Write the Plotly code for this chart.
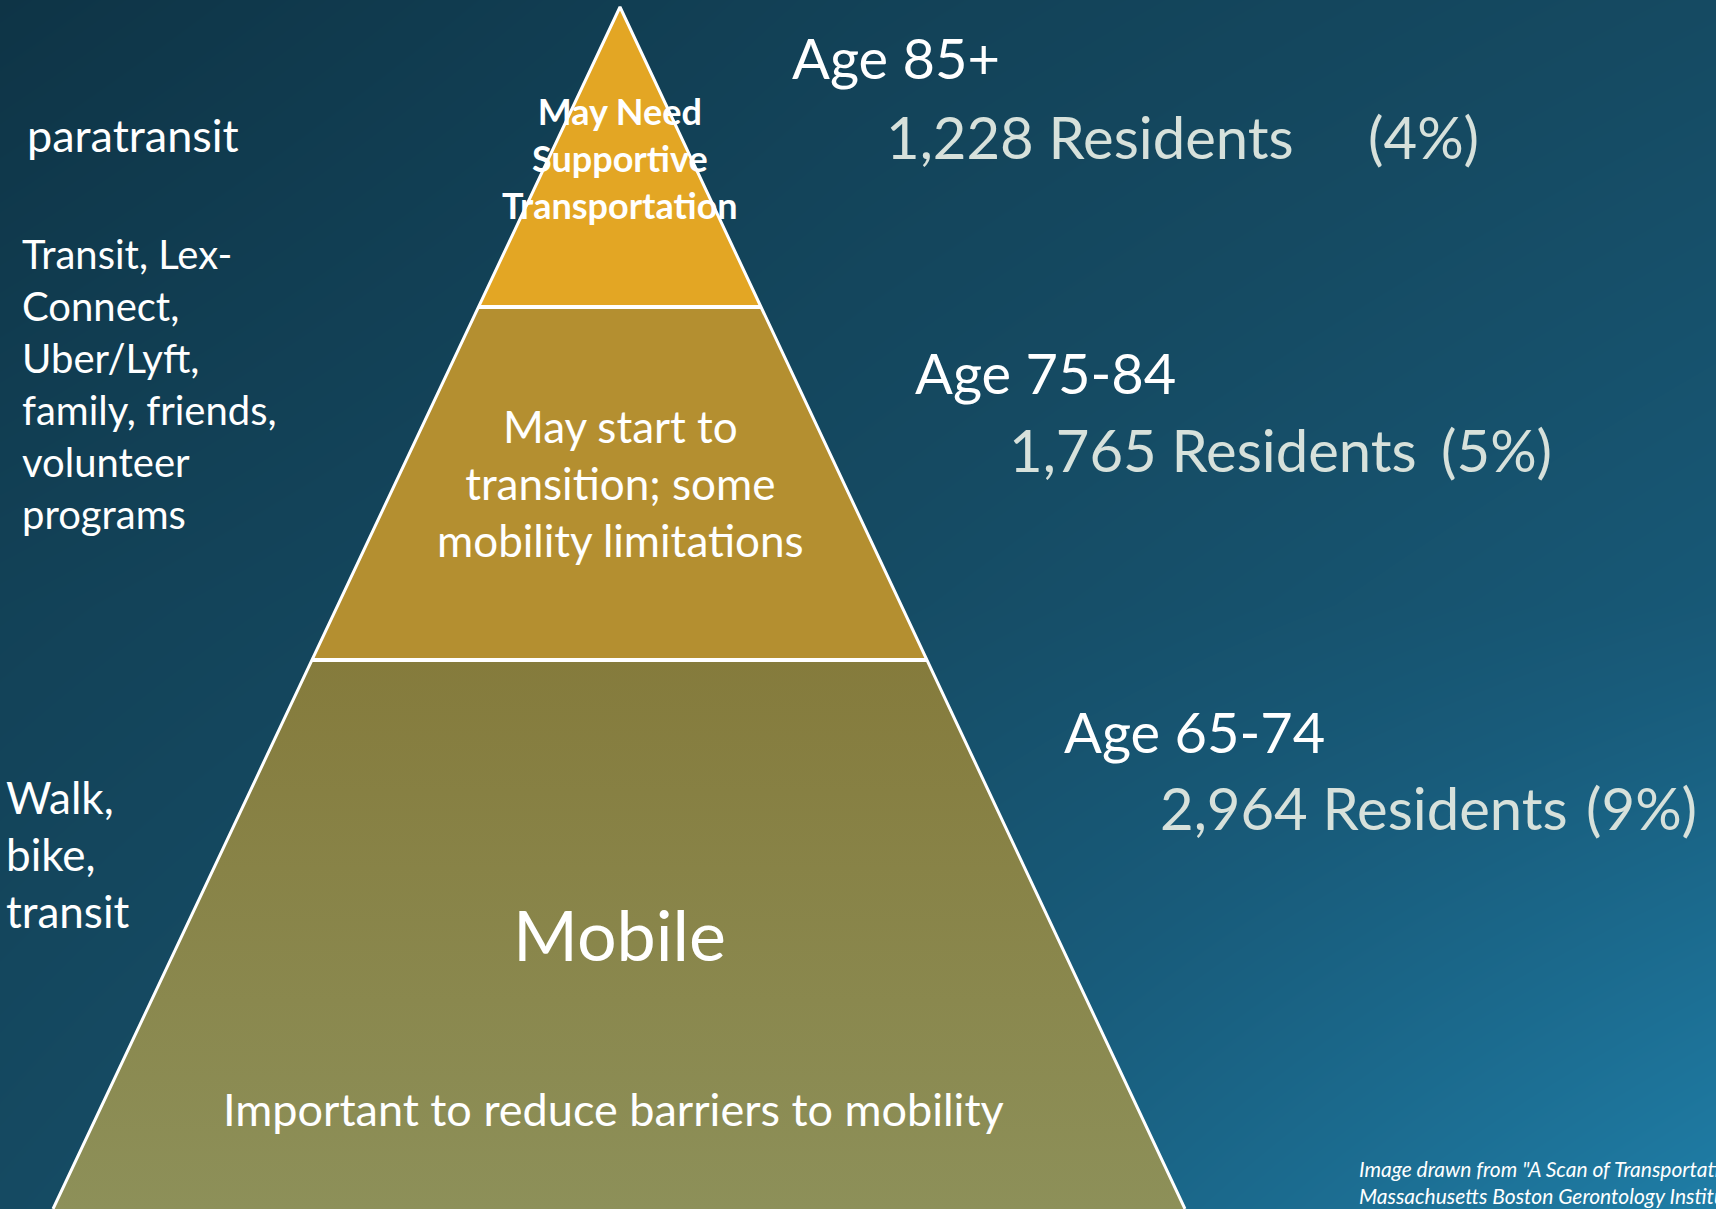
import plotly.graph_objects as go

# chart content
age_groups = ["Age 85+", "Age 75-84", "Age 65-74"]
residents = [1228, 1765, 2964]
shares = [4, 5, 9]
tier_labels = [
    "May Need<br>Supportive<br>Transportation",
    "May start to<br>transition; some<br>mobility limitations",
    "Mobile",
]
travel_modes = [
    "paratransit",
    "Transit, Lex-<br>Connect,<br>Uber/Lyft,<br>family, friends,<br>volunteer<br>programs",
    "Walk,<br>bike,<br>transit",
]
base_note = "Important to reduce barriers to mobility"
source_note = ("Image drawn from \"A Scan of Transportation<br>"
               "Massachusetts Boston Gerontology Institute")

W, H = 1716, 1209
FONT = "Lato, 'Noto Sans', sans-serif"

# pyramid geometry (pixel space, y grows downward)
apex = (620, 7)
base_left, base_right = 53, 1185
tier_y = [7, 307, 660, 1209]
tier_fill = ["#E3A624", "#B48F30", None]


def edge_x(y, side):
    t = (y - apex[1]) / (H - apex[1])
    end = base_left if side == "left" else base_right
    return apex[0] + (end - apex[0]) * t


fig = go.Figure()

# background gradient
fig.add_trace(go.Heatmap(
    x=[0, W / 2, W], y=[0, H / 2, H],
    z=[[0.0, 0.22, 0.36], [0.22, 0.38, 0.56], [0.36, 0.6, 1.0]],
    colorscale=[[0, "#0E3446"], [0.36, "#154A62"], [0.6, "#185B7A"], [1, "#1F7DA6"]],
    zmin=0, zmax=1, zsmooth="best", showscale=False, hoverinfo="skip",
))

# pyramid tiers
for i in range(3):
    y0, y1 = tier_y[i], tier_y[i + 1]
    if i == 0:
        xs = [apex[0], edge_x(y1, "right"), edge_x(y1, "left"), apex[0]]
        ys = [y0, y1, y1, y0]
    else:
        xs = [edge_x(y0, "left"), edge_x(y0, "right"), edge_x(y1, "right"), edge_x(y1, "left"), edge_x(y0, "left")]
        ys = [y0, y0, y1, y1, y0]
    kw = dict(fillcolor=tier_fill[i]) if tier_fill[i] else dict(
        fillgradient=dict(type="vertical", colorscale=[[0, "#8D9059"], [1, "#857B3C"]]))
    fig.add_trace(go.Scatter(x=xs, y=ys, mode="lines", fill="toself",
                             line=dict(width=0), hoverinfo="skip", **kw))

# outline and dividers
fig.add_trace(go.Scatter(
    x=[edge_x(H, "left"), apex[0], edge_x(H, "right")], y=[H, apex[1], H],
    mode="lines", line=dict(color="white", width=3), hoverinfo="skip"))
for y in tier_y[1:3]:
    fig.add_trace(go.Scatter(
        x=[edge_x(y, "left"), edge_x(y, "right")], y=[y, y],
        mode="lines", line=dict(color="white", width=4), hoverinfo="skip"))

ann = []


def txt(x, y, text, size, color="white", xanchor="left", align="left", **extra):
    ann.append(dict(x=x, y=y, xref="x", yref="y", text=text, showarrow=False,
                    xanchor=xanchor, yanchor="middle", align=align,
                    font=dict(family=FONT, size=size, color=color, **extra)))


# right-hand age labels
age_pos = [(790, 57), (913, 372), (1062, 731)]
res_pos = [(884, 136), (1007, 449), (1158, 807)]
share_x = [1366, 1439, 1584]
for i in range(3):
    txt(age_pos[i][0], age_pos[i][1], age_groups[i], 56)
    txt(res_pos[i][0], res_pos[i][1], f"{residents[i]:,} Residents", 58, color="#D7E1DB")
    txt(share_x[i], res_pos[i][1], f"({shares[i]}%)", 58, color="#D7E1DB")

# labels inside pyramid
txt(620, 158, f"<b>{tier_labels[0]}</b>", 36, xanchor="center", align="center")
txt(620, 483, tier_labels[1], 44, xanchor="center", align="center")
txt(619, 934, tier_labels[2], 70, xanchor="center", align="center")
txt(613, 1109, base_note, 45, xanchor="center", align="center")

# left-hand travel modes
txt(25, 135, travel_modes[0], 45)
txt(20, 384, travel_modes[1], 40)
txt(4, 854, travel_modes[2], 44)

# source note
txt(1357, 1182, f"<i>{source_note}</i>", 21)

fig.update_layout(
    width=W, height=H,
    margin=dict(l=0, r=0, t=0, b=0),
    paper_bgcolor="#12405A", plot_bgcolor="#12405A",
    showlegend=False,
    xaxis=dict(range=[0, W], visible=False, fixedrange=True),
    yaxis=dict(range=[H, 0], visible=False, fixedrange=True),
    annotations=ann,
)

fig.write_html("out.html", config={"displayModeBar": False},
               post_script="document.body.style.margin='0';")
